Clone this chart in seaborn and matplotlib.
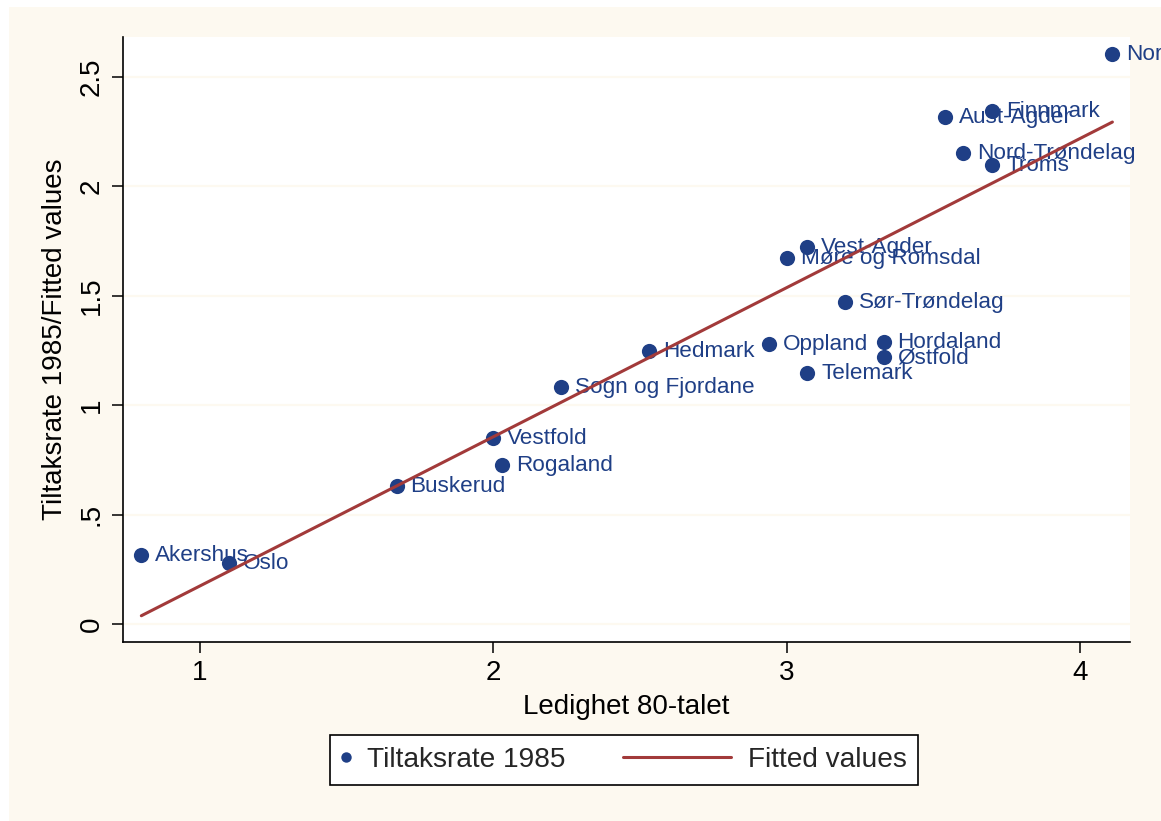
import matplotlib
matplotlib.use('Agg')
import matplotlib.pyplot as plt
import seaborn as sns
import pandas as pd
from matplotlib.lines import Line2D
from matplotlib.patches import Rectangle
from matplotlib.legend_handler import HandlerLine2D

# ------------------------------------------------------------
# Data (lest av figuren)
# ------------------------------------------------------------
fylker = ['Norge', 'Finnmark', 'Aust-Agder', 'Nord-Trøndelag', 'Troms',
          'Vest-Agder', 'Møre og Romsdal', 'Sør-Trøndelag', 'Oppland',
          'Hordaland', 'Østfold', 'Telemark', 'Hedmark', 'Sogn og Fjordane',
          'Vestfold', 'Rogaland', 'Buskerud', 'Akershus', 'Oslo']
ledighet = [4.11, 3.70, 3.54, 3.60, 3.70,
            3.07, 3.00, 3.20, 2.94,
            3.33, 3.33, 3.07, 2.53, 2.23,
            2.00, 2.03, 1.67, 0.80, 1.10]
tiltaksrate = [2.605, 2.345, 2.317, 2.153, 2.098,
               1.723, 1.673, 1.472, 1.280,
               1.289, 1.220, 1.147, 1.248, 1.083,
               0.850, 0.727, 0.631, 0.315, 0.279]

x_ticks = [1, 2, 3, 4]
y_ticks = [0, 0.5, 1, 1.5, 2, 2.5]
y_ticklabels = ['0', '.5', '1', '1.5', '2', '2.5']

NAVY = '#1f3f86'
RED = '#a23a3a'
CREAM = '#fdf9f0'

df = pd.DataFrame({'fylke': fylker, 'ledighet': ledighet, 'tiltaksrate': tiltaksrate})

sns.set_theme(style='white')
plt.rcParams['font.family'] = ['Liberation Sans', 'DejaVu Sans']

W, H = 1161, 821
fig = plt.figure(figsize=(W / 100, H / 100), dpi=100)
fig.patch.set_facecolor('white')
fig.add_artist(Rectangle((9 / W, 0), 1, 1 - 7 / H, transform=fig.transFigure,
                         facecolor=CREAM, edgecolor='none', zorder=-10))

ax = fig.add_axes([123 / W, 1 - 642 / H, (1130 - 123) / W, (642 - 37) / H])
ax.set_facecolor('white')

sns.scatterplot(data=df, x='ledighet', y='tiltaksrate', s=120, color=NAVY,
                linewidth=0, ax=ax, zorder=3, legend=False)
sns.regplot(data=df, x='ledighet', y='tiltaksrate', scatter=False, ci=None,
            truncate=True, color=RED, line_kws={'lw': 2.2, 'zorder': 6}, ax=ax)

for navn, xv, yv in zip(fylker, ledighet, tiltaksrate):
    ax.annotate(navn, (xv, yv), xytext=(10, -0.5), textcoords='offset points',
                va='center', ha='left', fontsize=16.2, color=NAVY, zorder=4)

ax.set_xlim(0.7375, 4.17)
ax.set_ylim(-0.082, 2.683)
ax.set_xticks(x_ticks)
ax.set_xticklabels([str(t) for t in x_ticks])
ax.set_yticks(y_ticks)
ax.set_yticklabels(y_ticklabels, rotation=90, va='center')
ax.yaxis.grid(True, color=CREAM, lw=1.6)
ax.xaxis.grid(False)
ax.set_axisbelow(True)

for s in ['top', 'right']:
    ax.spines[s].set_visible(False)
for s in ['left', 'bottom']:
    ax.spines[s].set_color('black')
    ax.spines[s].set_linewidth(1.2)
ax.tick_params(axis='both', which='major', direction='out', length=8, width=1.1,
               color='black', labelsize=20, labelcolor='black', pad=5,
               bottom=True, left=True)
ax.set_xlabel('Ledighet 80-talet', fontsize=20, color='black', labelpad=6)
ax.set_ylabel('Tiltaksrate 1985/Fitted values', fontsize=20, color='black', labelpad=8)


# legenden: lang linje for "Fitted values", kort markor for punktene
class LangLinje(HandlerLine2D):
    def create_artists(self, legend, orig_handle, xdescent, ydescent,
                       width, height, fontsize, trans):
        ekstra = 3.55 * fontsize
        return super().create_artists(legend, orig_handle, xdescent + ekstra, ydescent,
                                      width + ekstra, height, fontsize, trans)


h_punkt = Line2D([], [], ls='none', marker='o', color=NAVY, markersize=7.5,
                 markeredgewidth=0)
h_linje = Line2D([], [], color=RED, lw=2.2)
leg = fig.legend([h_punkt, h_linje], ['Tiltaksrate 1985', 'Fitted values'],
                 loc='center', bbox_to_anchor=(624 / W, 1 - 760 / H), ncol=2,
                 fontsize=20.2, frameon=True, fancybox=False, edgecolor='black',
                 facecolor='white', framealpha=1, handlelength=0.3,
                 handletextpad=0.6, columnspacing=5.6, borderpad=0.42,
                 handler_map={h_linje: LangLinje()})
leg.get_frame().set_linewidth(1.2)

fig.savefig('out.png', dpi=100, facecolor=fig.get_facecolor())
